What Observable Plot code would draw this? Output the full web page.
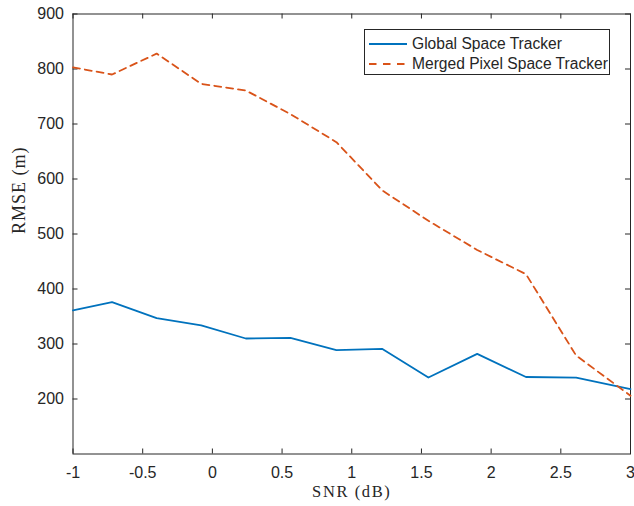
<!DOCTYPE html>
<html>
<head>
<meta charset="utf-8">
<script src="https://cdn.jsdelivr.net/npm/d3@7"></script>
<script src="https://cdn.jsdelivr.net/npm/@observablehq/plot@0.6"></script>
<style>
  html, body { margin: 0; padding: 0; background: #fff; }
  #chart { position: relative; width: 634px; height: 506px; }
  #legend {
    position: absolute; left: 364px; top: 29px; width: 246px; height: 46px; box-sizing: border-box;
    border: 1px solid #262626; background: #fff;
    font-family: "Liberation Sans", Arial, sans-serif; font-size: 15.6px; color: #262626;
  }
  #legend .row { position: absolute; left: 0; height: 20px; display: flex; align-items: center; white-space: nowrap; }
  #legend svg { margin-left: 4px; margin-right: 5px; }
</style>
</head>
<body>
<div id="chart"></div>
<script>
// SNR sample points (dB)
const snr = [-1, -0.72, -0.4, -0.08, 0.24, 0.56, 0.89, 1.22, 1.55, 1.9, 2.25, 2.61, 3];
// RMSE (m) of each tracker at those SNRs
const globalRmse = [361, 376, 347, 334, 310, 311, 289, 291, 239, 282, 240, 239, 218];
const mergedRmse = [803, 790, 828, 773, 761, 718, 667, 579, 524, 471, 427, 279, 206];
const seriesNames = ["Global Space Tracker", "Merged Pixel Space Tracker"];
const seriesColors = ["#0072BD", "#D95319"];
const xTicks = [-1, -0.5, 0, 0.5, 1, 1.5, 2, 2.5, 3];
const yTicks = [200, 300, 400, 500, 600, 700, 800, 900];

const globalData = snr.map((x, i) => ({x, y: globalRmse[i]}));
const mergedData = snr.map((x, i) => ({x, y: mergedRmse[i]}));

const W = 634, H = 506;
const mL = 72.5, mR = 4, mT = 13.5, mB = 52.5;
const innerW = W - mL - mR, innerH = H - mT - mB;
const axisColor = "#262626";
const tickLen = 5;
const serif = "'Liberation Serif', 'Times New Roman', serif";

const chart = Plot.plot({
  width: W, height: H,
  marginLeft: mL, marginRight: mR, marginTop: mT, marginBottom: mB,
  x: {domain: [-1, 3]},
  y: {domain: [100, 900]},
  style: {fontFamily: "'Liberation Sans', Arial, sans-serif", fontSize: "16px", color: axisColor, background: "#fff"},
  marks: [
    // inward ticks on all four sides
    Plot.tickX(xTicks, {x: d => d, stroke: axisColor, insetTop: innerH - tickLen}),
    Plot.tickX(xTicks, {x: d => d, stroke: axisColor, insetBottom: innerH - tickLen}),
    Plot.tickY(yTicks, {y: d => d, stroke: axisColor, insetRight: innerW - tickLen}),
    Plot.tickY(yTicks, {y: d => d, stroke: axisColor, insetLeft: innerW - tickLen}),
    Plot.axisX({ticks: xTicks, tickSize: 0, tickPadding: 12.5, tickFormat: d => String(d), label: null, fill: axisColor, fontSize: 16}),
    Plot.axisY({ticks: yTicks, tickSize: 0, tickPadding: 9, tickFormat: d => String(d), label: null, fill: axisColor, fontSize: 16}),
    Plot.frame({stroke: axisColor, strokeWidth: 1}),
    Plot.line(globalData, {x: "x", y: "y", stroke: seriesColors[0], strokeWidth: 1.8}),
    Plot.line(mergedData, {x: "x", y: "y", stroke: seriesColors[1], strokeWidth: 1.8, strokeDasharray: "7,5"}),
    Plot.text(["SNR (dB)"], {text: d => d, frameAnchor: "bottom", lineAnchor: "bottom", dy: 43, fontFamily: serif, fontSize: 16.5, fill: axisColor}),
    Plot.text(["RMSE (m)"], {text: d => d, frameAnchor: "left", dx: -53.5, rotate: -90, fontFamily: serif, fontSize: 18, fill: axisColor})
  ]
});

// a touch of letter spacing on the serif axis titles
chart.querySelectorAll("text").forEach(t => {
  if (t.textContent === "SNR (dB)") t.setAttribute("letter-spacing", "1.6px");
  if (t.textContent === "RMSE (m)") t.setAttribute("letter-spacing", "1px");
});

const host = document.getElementById("chart");
host.appendChild(chart);

// legend box in the upper right of the axes
const legend = document.createElement("div");
legend.id = "legend";
seriesNames.forEach((name, i) => {
  const row = document.createElement("div");
  row.className = "row";
  row.style.top = (i === 0 ? 4 : 24) + "px";
  const dash = i === 1 ? 'stroke-dasharray="7.5,6.5"' : "";
  row.innerHTML = `<svg width="38" height="6"><line x1="0" y1="3" x2="38" y2="3" stroke="${seriesColors[i]}" stroke-width="1.8" ${dash}/></svg><span>${name}</span>`;
  legend.appendChild(row);
});
host.appendChild(legend);
</script>
</body>
</html>
